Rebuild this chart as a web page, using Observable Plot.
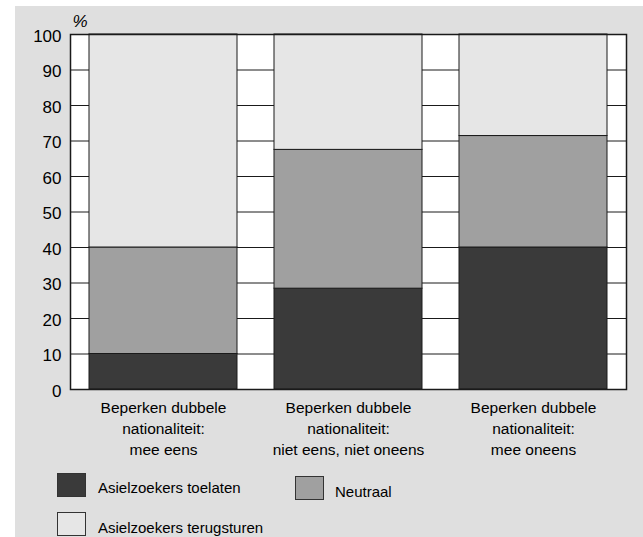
<!DOCTYPE html>
<html>
<head>
<meta charset="utf-8">
<script src="https://cdn.jsdelivr.net/npm/d3@7"></script>
<script src="https://cdn.jsdelivr.net/npm/@observablehq/plot@0.6"></script>
<style>
  html, body { margin: 0; padding: 0; background: #ffffff; }
  #panel { position: absolute; left: 15px; top: 6px; width: 628px; height: 531px; background: #dfdfdf;
    font-family: "Liberation Sans", Arial, Helvetica, sans-serif; color: #000; }
  #chart { position: absolute; left: 0; top: 0; }
  .sw { position: absolute; width: 27px; height: 22px; border: 1px solid #333; box-sizing: content-box; }
  .lt { position: absolute; font-size: 15px; line-height: 18px; white-space: nowrap; }
</style>
</head>
<body>
<div id="panel">
  <div id="chart"></div>
  <div id="legend"></div>
</div>
<script>
const categories = [
  "Beperken dubbele\nnationaliteit:\nmee eens",
  "Beperken dubbele\nnationaliteit:\nniet eens, niet oneens",
  "Beperken dubbele\nnationaliteit:\nmee oneens"
];
const seriesNames = ["Asielzoekers toelaten", "Neutraal", "Asielzoekers terugsturen"];
const seriesColors = ["#3a3a3a", "#a0a0a0", "#e6e6e6"];
const toelaten = [10, 28.4, 40];
const neutraal = [30, 39.1, 31.4];
const terugsturen = [60, 32.5, 28.6];
const yTicks = [0, 10, 20, 30, 40, 50, 60, 70, 80, 90, 100];

const seriesValues = [toelaten, neutraal, terugsturen];
const data = [];
seriesNames.forEach((s, si) => {
  categories.forEach((c, ci) => {
    data.push({category: c, series: s, value: seriesValues[si][ci]});
  });
});

const chart = Plot.plot({
  width: 628,
  height: 460,
  marginTop: 28,
  marginLeft: 55,
  marginRight: 17,
  marginBottom: 77,
  style: {background: "transparent", fontFamily: "'Liberation Sans', Arial, Helvetica, sans-serif", fontSize: "15px", color: "#000"},
  x: {domain: categories, paddingInner: 0.2, paddingOuter: 0.1, label: null},
  y: {domain: [0, 100], label: null},
  color: {domain: seriesNames, range: seriesColors},
  marks: [
    Plot.frame({fill: "#ffffff", stroke: null}),
    Plot.ruleY(yTicks, {stroke: "#1a1a1a", strokeWidth: 1}),
    Plot.barY(data, {x: "category", y: "value", fill: "series", order: seriesNames, stroke: "#1a1a1a", strokeWidth: 1}),
    Plot.frame({stroke: "#1a1a1a", strokeWidth: 1.5}),
    Plot.axisY({ticks: yTicks, tickSize: 0, tickPadding: 9, fontSize: 17, dy: 2, label: null}),
    Plot.axisX({tickSize: 0, tickPadding: 8, fontSize: 15.5, lineHeight: 1.38, label: null}),
    Plot.text(["%"], {frameAnchor: "top-left", text: d => d, dx: 2, dy: -20, fontSize: 17, fontStyle: "italic"})
  ]
});
document.getElementById("chart").appendChild(chart);

// legend
const legendPos = [
  {sx: 42, sy: 467, tx: 83, ty: 473},
  {sx: 280, sy: 470, tx: 320, ty: 477},
  {sx: 42, sy: 506, tx: 83, ty: 513}
];
const legend = document.getElementById("legend");
seriesNames.forEach((s, i) => {
  const p = legendPos[i];
  const sw = document.createElement("div");
  sw.className = "sw";
  sw.style.left = p.sx + "px";
  sw.style.top = p.sy + "px";
  sw.style.background = seriesColors[i];
  legend.appendChild(sw);
  const t = document.createElement("div");
  t.className = "lt";
  t.style.left = p.tx + "px";
  t.style.top = p.ty + "px";
  t.textContent = s;
  legend.appendChild(t);
});
</script>
</body>
</html>
